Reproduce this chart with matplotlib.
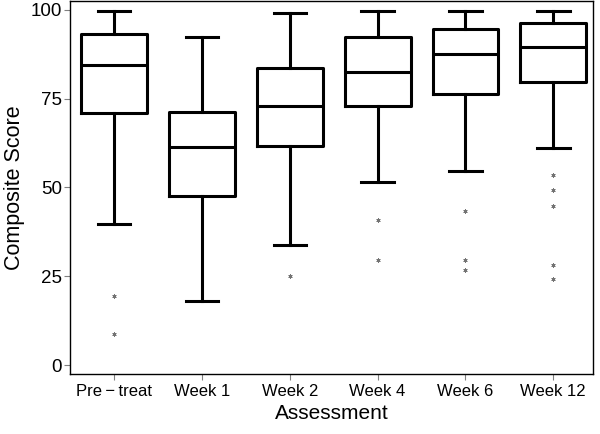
import matplotlib
matplotlib.use("Agg")
import matplotlib.pyplot as plt

plt.rcParams['font.family'] = ['Liberation Sans', 'DejaVu Sans']

labels = ["Pre\u2009\u2212\u2009treat", "Week 1", "Week 2", "Week 4", "Week 6", "Week 12"]

# five-number summaries
whislo = [39.8, 18.0, 33.9, 51.5, 54.6, 61.0]
q1     = [70.9, 47.5, 61.7, 72.8, 76.3, 79.6]
med    = [84.5, 61.5, 73.0, 82.4, 87.5, 89.4]
q3     = [93.2, 71.2, 83.5, 92.2, 94.6, 96.2]
whishi = [99.7, 92.2, 99.2, 99.7, 99.7, 99.7]
fliers = [
    [19.4, 8.9],
    [],
    [25.1],
    [40.9, 29.7],
    [43.5, 29.5, 26.7],
    [53.4, 49.2, 44.7, 28.1, 24.2],
]

stats = []
for i in range(len(labels)):
    stats.append(dict(label=labels[i], whislo=whislo[i], q1=q1[i], med=med[i],
                      q3=q3[i], whishi=whishi[i], fliers=fliers[i]))

fig = plt.figure(figsize=(6, 4.34), dpi=100)
ax = fig.add_axes([0.117, 0.138, 0.871, 0.86])

lw = 2.2
ax.bxp(stats, widths=0.75, showfliers=True,
       boxprops=dict(color='black', linewidth=lw),
       medianprops=dict(color='black', linewidth=lw),
       whiskerprops=dict(color='black', linewidth=lw),
       capprops=dict(color='black', linewidth=lw),
       capwidths=0.37,
       flierprops=dict(marker=(6, 2, 0), markersize=3, markeredgecolor='0.45',
                       markerfacecolor='0.45', markeredgewidth=0.6, linestyle='none'))

ax.set_xlim(0.5, 6.45)
ax.set_ylim(-2.5, 102.5)
ax.set_yticks([0, 25, 50, 75, 100])
ax.tick_params(axis='y', labelsize=13.5, length=4, color='0.5', pad=2)
ax.tick_params(axis='x', labelsize=12, length=4, color='0.5', pad=3)
for s in ax.spines.values():
    s.set_linewidth(1.0)

ax.set_xlabel("Assessment", fontsize=15, labelpad=4)
ax.set_ylabel("Composite Score", fontsize=15.5, labelpad=4)

fig.savefig("out.png", dpi=100)
